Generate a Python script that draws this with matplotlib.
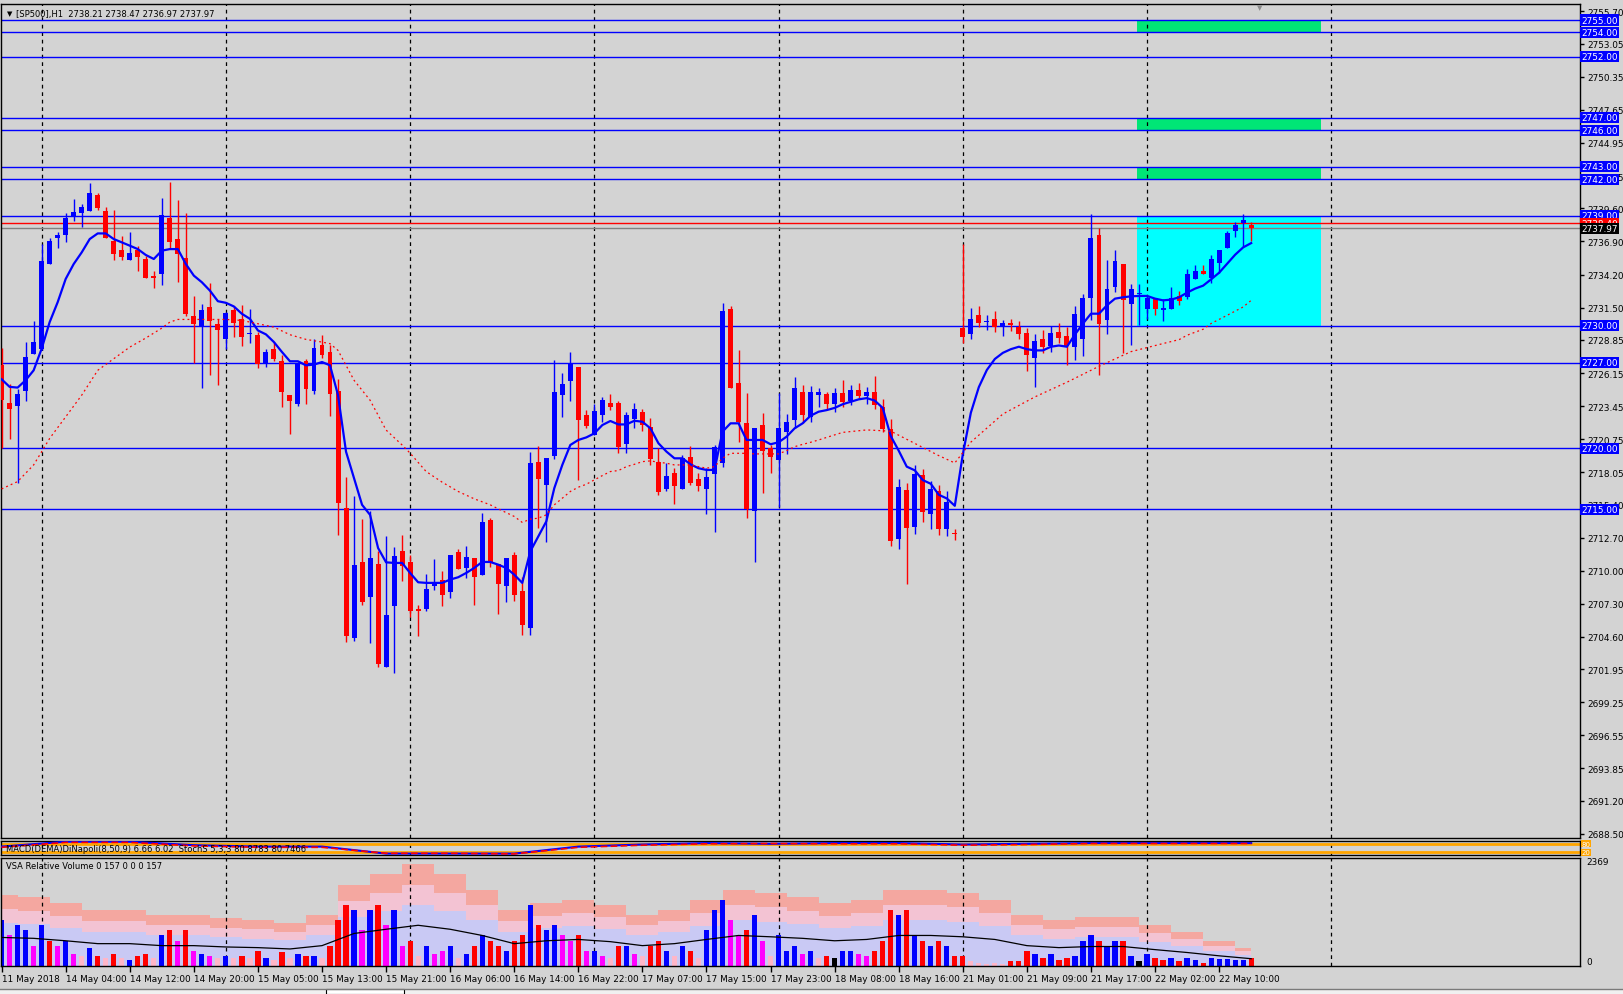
import numpy as np
import matplotlib.pyplot as plt
from matplotlib.patches import Rectangle
from matplotlib.transforms import blended_transform_factory

plt.rcParams['font.family'] = ['DejaVu Sans']

# hourly SP500 bars
opens = [2726.78, 2723.71, 2723.44, 2724.66, 2727.68, 2728.14, 2735.09, 2737.15, 2737.45, 2739.00,
         2739.27, 2739.41, 2740.68, 2739.43, 2736.94, 2736.20, 2735.42, 2736.20, 2735.47, 2734.06,
         2734.22, 2738.78, 2737.07, 2735.52, 2730.83, 2729.90, 2731.56, 2730.18, 2728.95, 2731.29,
         2730.58, 2729.31, 2729.28, 2726.86, 2728.14, 2727.13, 2724.37, 2723.60, 2727.13, 2724.66,
         2728.46, 2727.87, 2724.72, 2715.16, 2704.46, 2710.68, 2707.83, 2710.55, 2702.13, 2707.10,
         2711.63, 2710.71, 2706.83, 2706.90, 2708.78, 2709.21, 2708.23, 2711.52, 2710.22, 2711.03,
         2709.67, 2714.16, 2710.54, 2708.72, 2711.25, 2708.32, 2705.33, 2718.91, 2717.01, 2719.37,
         2724.35, 2725.49, 2726.65, 2722.72, 2721.09, 2722.72, 2723.67, 2723.67, 2720.37, 2722.36,
         2722.93, 2721.71, 2718.91, 2716.66, 2717.96, 2716.68, 2719.32, 2717.47, 2716.68, 2717.91,
         2718.83, 2731.41, 2725.30, 2722.04, 2714.84, 2721.90, 2720.05, 2719.05, 2721.30, 2722.31,
         2724.62, 2722.58, 2724.35, 2724.40, 2723.60, 2724.50, 2723.90, 2724.80, 2724.30, 2724.60,
         2723.40, 2721.60, 2712.60, 2716.60, 2713.60, 2717.80, 2714.60, 2716.50, 2713.40, 2713.10,
         2729.80, 2729.30, 2730.90, 2730.30, 2730.60, 2729.90, 2730.20, 2729.90, 2729.40, 2727.40,
         2728.90, 2728.40, 2729.50, 2729.20, 2728.30, 2728.96, 2732.31, 2737.45, 2730.46, 2733.18,
         2735.09, 2731.82, 2732.60, 2731.36, 2732.26, 2731.28, 2731.41, 2732.47, 2732.37, 2733.86,
         2734.51, 2733.94, 2735.17, 2736.39, 2737.73, 2738.43, 2738.21]
highs = [2728.22, 2725.29, 2724.88, 2728.68, 2730.39, 2736.69, 2737.15, 2737.64, 2739.19, 2740.41,
         2739.95, 2741.66, 2740.90, 2739.73, 2739.46, 2737.37, 2737.64, 2736.56, 2735.74, 2734.49,
         2740.49, 2741.80, 2740.30, 2739.27, 2732.48, 2731.80, 2733.49, 2730.58, 2731.13, 2731.61,
         2731.67, 2731.40, 2729.50, 2728.14, 2728.68, 2727.60, 2724.37, 2727.05, 2727.32, 2728.95,
         2729.22, 2728.41, 2725.70, 2717.69, 2716.14, 2714.21, 2714.84, 2711.58, 2712.80, 2711.90,
         2712.88, 2711.31, 2707.20, 2709.73, 2710.95, 2709.95, 2711.30, 2711.77, 2712.04, 2711.03,
         2714.75, 2714.29, 2710.54, 2711.03, 2711.49, 2709.46, 2719.73, 2720.22, 2719.18, 2727.25,
         2726.17, 2727.88, 2726.65, 2723.12, 2723.58, 2724.16, 2724.45, 2723.88, 2722.99, 2723.67,
         2723.20, 2722.44, 2720.05, 2718.78, 2718.42, 2719.46, 2720.22, 2717.96, 2718.37, 2720.27,
         2731.90, 2731.63, 2728.01, 2724.48, 2721.63, 2722.85, 2720.27, 2724.48, 2722.82, 2725.84,
         2725.16, 2725.11, 2724.89, 2724.62, 2724.90, 2725.60, 2725.20, 2725.30, 2725.00, 2725.90,
         2724.00, 2722.40, 2717.50, 2717.20, 2718.60, 2718.30, 2717.30, 2717.00, 2716.50, 2713.40,
         2736.70, 2731.50, 2731.60, 2730.90, 2731.20, 2730.50, 2730.60, 2730.40, 2729.80, 2729.30,
         2729.70, 2730.00, 2730.20, 2729.90, 2731.60, 2732.60, 2739.17, 2738.00, 2735.36, 2736.17,
         2735.09, 2733.45, 2733.45, 2732.50, 2732.26, 2732.23, 2733.21, 2732.88, 2734.68, 2735.00,
         2735.00, 2735.82, 2736.23, 2737.78, 2738.49, 2739.17, 2738.47]
lows = [2719.99, 2720.75, 2717.20, 2723.85, 2727.68, 2728.00, 2735.09, 2736.39, 2736.88, 2738.59,
        2738.10, 2739.41, 2739.49, 2737.15, 2735.42, 2735.42, 2735.42, 2734.46, 2733.89, 2733.13,
        2733.38, 2736.28, 2733.57, 2730.80, 2727.00, 2724.96, 2725.97, 2725.15, 2728.14, 2729.06,
        2728.36, 2728.57, 2726.59, 2726.62, 2727.11, 2723.36, 2721.16, 2723.47, 2723.66, 2724.42,
        2727.38, 2722.63, 2712.93, 2704.19, 2704.25, 2707.23, 2704.06, 2702.16, 2702.13, 2701.61,
        2709.13, 2706.23, 2704.65, 2706.68, 2708.45, 2707.15, 2707.77, 2710.16, 2709.40, 2707.23,
        2709.67, 2710.27, 2706.49, 2707.45, 2707.50, 2704.78, 2704.78, 2713.48, 2712.34, 2719.13,
        2722.52, 2723.86, 2717.42, 2721.63, 2721.09, 2722.17, 2723.12, 2719.59, 2719.59, 2721.63,
        2721.41, 2718.64, 2716.20, 2716.47, 2715.46, 2716.68, 2717.01, 2716.47, 2714.62, 2713.15,
        2718.50, 2724.94, 2720.49, 2714.29, 2710.71, 2716.33, 2717.96, 2715.24, 2719.54, 2721.68,
        2722.04, 2722.12, 2723.39, 2723.20, 2723.00, 2723.40, 2723.50, 2724.00, 2723.60, 2723.20,
        2721.30, 2712.00, 2711.80, 2708.90, 2713.00, 2714.00, 2713.40, 2712.90, 2712.80, 2712.50,
        2728.60, 2728.90, 2729.90, 2729.70, 2729.50, 2729.20, 2729.60, 2728.90, 2726.30, 2725.00,
        2727.80, 2727.90, 2728.60, 2726.80, 2727.20, 2727.55, 2730.50, 2726.00, 2729.37, 2732.77,
        2727.80, 2728.42, 2730.05, 2730.60, 2730.87, 2730.38, 2731.41, 2731.68, 2732.23, 2733.86,
        2734.22, 2733.51, 2734.30, 2736.39, 2737.26, 2736.45, 2736.97]
closes = [2723.93, 2723.20, 2724.47, 2727.46, 2728.68, 2735.28, 2736.94, 2737.42, 2738.81, 2739.35,
          2739.68, 2740.90, 2739.65, 2737.15, 2735.88, 2735.66, 2735.93, 2735.66, 2733.89, 2733.89,
          2739.03, 2736.83, 2735.85, 2730.99, 2730.15, 2731.29, 2730.37, 2729.63, 2731.07, 2730.28,
          2729.06, 2729.39, 2726.89, 2727.89, 2727.32, 2724.61, 2723.85, 2727.00, 2724.88, 2728.19,
          2727.60, 2724.42, 2715.49, 2704.63, 2710.44, 2707.45, 2711.03, 2702.35, 2706.36, 2711.17,
          2710.38, 2706.69, 2706.70, 2708.51, 2709.00, 2707.99, 2711.30, 2710.16, 2711.09, 2709.46,
          2713.97, 2710.62, 2708.94, 2711.03, 2707.99, 2705.52, 2718.78, 2717.47, 2719.18, 2724.62,
          2725.22, 2726.98, 2722.31, 2721.82, 2723.07, 2723.91, 2723.34, 2720.08, 2722.72, 2723.18,
          2721.90, 2719.13, 2716.41, 2717.74, 2716.93, 2719.24, 2717.15, 2716.93, 2717.69, 2720.13,
          2731.19, 2724.94, 2722.17, 2715.03, 2721.63, 2719.78, 2719.29, 2721.63, 2722.12, 2724.89,
          2722.72, 2724.62, 2724.62, 2723.58, 2724.50, 2723.80, 2724.80, 2724.30, 2724.60, 2723.50,
          2721.60, 2712.40, 2716.80, 2713.50, 2717.90, 2714.80, 2716.70, 2713.40, 2715.60, 2713.00,
          2729.10, 2730.60, 2730.20, 2730.40, 2729.90, 2730.20, 2730.10, 2729.30, 2727.60, 2728.80,
          2728.30, 2729.40, 2729.00, 2728.40, 2731.00, 2732.31, 2737.21, 2730.19, 2732.99, 2735.33,
          2732.09, 2732.99, 2732.64, 2732.31, 2731.41, 2731.47, 2732.31, 2732.04, 2734.24, 2734.51,
          2734.22, 2735.49, 2736.23, 2737.56, 2738.27, 2738.68, 2737.97]

# fast moving average (solid blue), one value per bar
ma_fast = [2725.64, 2725.02, 2724.96, 2725.56, 2726.37, 2728.14, 2730.31, 2731.94, 2733.84, 2735.06,
           2736.01, 2737.10, 2737.56, 2737.56, 2737.10, 2736.83, 2736.56, 2736.28, 2735.80, 2735.47,
           2736.15, 2736.28, 2736.28, 2735.06, 2734.11, 2733.57, 2732.89, 2732.02, 2731.89, 2731.59,
           2730.99, 2730.58, 2729.63, 2729.31, 2728.68, 2727.87, 2727.11, 2727.11, 2726.78, 2726.84,
           2727.05, 2726.78, 2724.34, 2719.72, 2717.55, 2715.38, 2714.56, 2711.85, 2710.68, 2710.63,
           2710.63, 2709.81, 2709.05, 2709.00, 2709.00, 2709.00, 2709.27, 2709.46, 2709.81, 2710.22,
           2710.71, 2710.71, 2710.49, 2710.22, 2709.67, 2709.00, 2711.57, 2712.80, 2714.02, 2716.74,
           2718.64, 2720.27, 2720.68, 2720.89, 2721.22, 2721.90, 2722.23, 2721.95, 2721.95, 2722.25,
           2722.17, 2721.63, 2720.41, 2719.73, 2719.18, 2719.18, 2718.69, 2718.37, 2718.23, 2718.23,
           2721.36, 2722.04, 2722.04, 2720.68, 2720.68, 2720.68, 2720.33, 2720.49, 2720.95, 2721.63,
           2722.04, 2722.66, 2722.99, 2723.12, 2723.30, 2723.60, 2723.80, 2724.00, 2724.10, 2723.90,
           2723.30, 2721.00, 2719.80, 2718.50, 2718.20, 2717.40, 2717.10, 2716.20, 2715.90, 2715.30,
           2719.50, 2722.90, 2725.00, 2726.40, 2727.30, 2727.80, 2728.10, 2728.30, 2728.10, 2728.00,
           2728.00, 2728.30, 2728.40, 2728.30, 2729.30, 2730.19, 2731.00, 2731.00, 2731.69, 2732.23,
           2732.34, 2732.42, 2732.45, 2732.45, 2732.23, 2732.09, 2732.15, 2732.34, 2732.72, 2733.05,
           2733.29, 2733.81, 2734.35, 2735.09, 2735.82, 2736.42, 2736.77]

# slow moving average (red dotted), read at these bars
ma_slow_bar = [0, 2, 4, 5, 6, 8, 10, 12, 14, 16, 18, 20, 21, 22, 24, 26, 28, 30, 32, 34, 36, 38, 40,
               41, 42, 43, 44, 46, 48, 50, 51, 52, 53, 55, 57, 59, 61, 62, 64, 65, 66, 67, 68, 69,
               70, 71, 72, 73, 74, 75, 76, 77, 78, 79, 80, 81, 82, 83, 84, 86, 87, 88, 89, 90, 91,
               93, 94, 97, 98, 99, 100, 101, 102, 103, 105, 108, 111, 114, 117, 119, 121, 125, 129,
               133, 137, 141, 143, 145, 147, 148, 150, 151, 153, 155, 156]
ma_slow_val = [2716.68, 2717.28, 2718.64, 2719.72, 2720.81, 2722.57, 2724.34, 2726.37, 2727.32,
               2728.27, 2729.01, 2729.82, 2730.31, 2730.53, 2730.53, 2730.53, 2730.53, 2730.45,
               2730.18, 2729.90, 2729.28, 2728.90, 2728.68, 2728.55, 2728.00, 2726.78, 2725.56,
               2723.93, 2721.49, 2720.27, 2719.60, 2718.85, 2718.10, 2717.23, 2716.47, 2715.87,
               2715.38, 2715.05, 2714.43, 2713.94, 2714.21, 2714.29, 2714.56, 2715.38, 2715.92,
               2716.47, 2716.82, 2717.06, 2717.42, 2717.77, 2718.10, 2718.18, 2718.50, 2718.69,
               2718.91, 2718.97, 2718.86, 2718.78, 2718.64, 2718.64, 2718.50, 2718.37, 2718.50,
               2719.18, 2719.59, 2719.59, 2719.54, 2719.54, 2719.81, 2720.13, 2720.32, 2720.49,
               2720.68, 2720.89, 2721.30, 2721.50, 2721.40, 2720.40, 2719.40, 2718.80, 2720.50,
               2722.80, 2724.20, 2725.40, 2726.70, 2727.90, 2728.23, 2728.56, 2728.88, 2729.24,
               2729.73, 2730.20, 2730.87, 2731.55, 2732.09]

# VSA relative volume panel
volume = [1035, 690, 920, 805, 460, 920, 575, 460, 575, 276,
          230, 414, 230, 184, 276, 184, 138, 230, 276, 184,
          690, 805, 575, 805, 345, 276, 230, 184, 230, 184,
          230, 184, 345, 184, 138, 322, 184, 276, 230, 230,
          184, 460, 1035, 1380, 1265, 805, 1265, 1380, 920, 1265,
          460, 575, 230, 460, 276, 345, 460, 184, 276, 460,
          690, 575, 460, 345, 575, 690, 1380, 920, 805, 920,
          690, 575, 690, 345, 345, 230, 184, 460, 460, 276,
          230, 460, 575, 345, 230, 460, 345, 184, 805, 1265,
          1495, 1035, 690, 805, 1150, 575, 230, 690, 345, 460,
          276, 345, 184, 230, 184, 345, 345, 276, 230, 345,
          575, 1265, 1150, 1265, 690, 575, 460, 575, 460, 230,
          230, 115, 69, 46, 69, 46, 115, 115, 345, 276,
          184, 276, 138, 184, 230, 575, 690, 575, 460, 575,
          575, 230, 115, 276, 184, 138, 184, 115, 184, 138,
          69, 184, 161, 161, 138, 138, 184]
vol_kind = ('bmbbmbrmbm' 'pbrprpbrrp' 'brmrmbmpbp' 'rprbprpbrb' 'prrrbmbrmb' 'mrpbmmbpbr'
            'brrbrrbrbb' 'mmrmbmprbm' 'prrbpbrpbb' 'bmmrbmpbbb' 'mbprkbbmmr' 'rrbrbrbrbr'
            'rppppprrrb' 'rbrrbbbrbb' 'rbkbrrbrbb' 'rbbbbbr')
band_bar = list(range(0, 157, 4))
band_high = [1610, 1564, 1426, 1265, 1265, 1150, 1150, 1081, 1035, 966, 1150, 1840, 2070, 2300,
             2070, 1725, 1265, 1426, 1495, 1380, 1150, 1265, 1495, 1725, 1656, 1564, 1426, 1495,
             1725, 1725, 1656, 1495, 1150, 1035, 1104, 1104, 920, 759, 575, 414]
band_mid = [1290, 1250, 1140, 1010, 1010, 920, 920, 865, 830, 775, 920, 1470, 1655, 1840, 1655,
            1380, 1010, 1140, 1195, 1105, 920, 1010, 1195, 1380, 1325, 1250, 1140, 1195, 1380,
            1380, 1325, 1195, 920, 830, 885, 885, 735, 605, 460, 330]
band_low = [965, 940, 855, 760, 760, 690, 690, 650, 620, 580, 690, 1105, 1240, 1380, 1240, 1035,
            760, 855, 895, 830, 690, 760, 895, 1035, 995, 940, 855, 895, 1035, 1035, 995, 895,
            690, 620, 660, 660, 550, 455, 345, 250]
vol_avg = [645, 625, 570, 505, 505, 460, 460, 430, 415, 385, 460, 735, 830, 920, 830, 690, 505,
           570, 600, 550, 460, 505, 600, 690, 660, 625, 570, 600, 690, 690, 660, 600, 460, 415,
           440, 440, 370, 305, 230, 165]

# oscillator strip (0..100 scale)
osc_bar = [0, 8, 16, 24, 32, 40, 48, 56, 64, 72, 80, 88, 96, 104, 112, 120, 128, 136, 144, 152, 156]
osc_main = [60, 95, 95, 70, 60, 60, 10, 10, 10, 60, 75, 85, 80, 85, 85, 75, 80, 85, 85, 85, 85]
osc_signal = [55, 90, 90, 65, 55, 55, 12, 12, 8, 55, 70, 80, 82, 80, 80, 70, 75, 82, 82, 82, 82]

levels = [2755, 2754, 2752, 2747, 2746, 2743, 2742, 2739, 2730, 2727, 2720, 2715]
green_zones = [(2754, 2755), (2746, 2747), (2742, 2743)]
cyan_zone = (2730, 2739)
zone_bars = (141.8, 164.7)
bid, ask = 2737.97, 2738.40

price_ticks = ['2755.70', '2753.05', '2750.35', '2747.65', '2744.95', '2742.25', '2739.60',
               '2736.90', '2734.20', '2731.50', '2728.85', '2726.15', '2723.45', '2720.75',
               '2718.05', '2715.40', '2712.70', '2710.00', '2707.30', '2704.60', '2701.95',
               '2699.25', '2696.55', '2693.85', '2691.20', '2688.50']
time_labels = ['11 May 2018', '14 May 04:00', '14 May 12:00', '14 May 20:00', '15 May 05:00',
               '15 May 13:00', '15 May 21:00', '16 May 06:00', '16 May 14:00', '16 May 22:00',
               '17 May 07:00', '17 May 15:00', '17 May 23:00', '18 May 08:00', '18 May 16:00',
               '21 May 01:00', '21 May 09:00', '21 May 17:00', '22 May 02:00', '22 May 10:00']
grid_bars = [5, 28, 51, 74, 97, 120, 143, 166]

W, H = 1624, 995
BG = '#D3D3D3'
BLUE, RED = '#0000FF', '#FF0000'
FS = 6.4
KIND_COL = {'b': BLUE, 'r': RED, 'm': '#FF00FF', 'p': '#FFB6C8', 'k': '#000000'}

fig = plt.figure(figsize=(W / 100, H / 100), dpi=100)
fig.patch.set_facecolor(BG)


def px_axes(x0, y0, x1, y1):
    a = fig.add_axes([x0 / W, 1 - y1 / H, (x1 - x0) / W, (y1 - y0) / H])
    a.set_facecolor(BG)
    for s in a.spines.values():
        s.set_color('black')
        s.set_linewidth(1)
    return a


XLIM = (-0.075, 197.05)
ax = px_axes(1, 5, 1580, 839)
sub = px_axes(1, 842, 1580, 856)
vol = px_axes(1, 859, 1580, 967)
for a in (ax, sub, vol):
    a.set_xlim(*XLIM)
    for g in grid_bars:
        a.axvline(g, color='black', lw=0.9, ls=(0, (3, 3)), zorder=1.5)

# ---- main price panel
ax.set_ylim(2688.15, 2756.31)
for lo, hi in green_zones:
    ax.add_patch(Rectangle((zone_bars[0], lo), zone_bars[1] - zone_bars[0], hi - lo,
                           facecolor='#00E676', edgecolor='none', zorder=0.5))
ax.add_patch(Rectangle((zone_bars[0], cyan_zone[0]), zone_bars[1] - zone_bars[0],
                       cyan_zone[1] - cyan_zone[0], facecolor='#00FFFF', edgecolor='none', zorder=0.5))
for lv in levels:
    ax.axhline(lv, color=BLUE, lw=1, zorder=2)
ax.axhline(ask, color=RED, lw=1, zorder=2)
ax.axhline(bid, color='#808080', lw=1, zorder=2)

o, h, l, c = (np.array(v) for v in (opens, highs, lows, closes))
x = np.arange(len(o))
col = np.where(c >= o, BLUE, RED)
ax.vlines(x, l, h, colors=col, lw=1, zorder=3)
ax.bar(x, np.maximum(np.abs(c - o), 0.09), bottom=np.minimum(o, c), width=0.62,
       color=col, lw=0, zorder=3)

ax.plot(np.arange(len(ma_fast)), ma_fast, color=BLUE, lw=1.6, zorder=4)
ax.plot(ma_slow_bar, ma_slow_val, color=RED, lw=0.9, ls=(0, (1.5, 2.5)), zorder=4)

ax.set_xticks([])
ax.yaxis.tick_right()
ax.set_yticks([float(t) for t in price_ticks])
ax.set_yticklabels(price_ticks)
ax.tick_params(axis='y', direction='out', length=3, width=1, pad=2, labelsize=FS, colors='black')

tr = blended_transform_factory(ax.transAxes, ax.transData)
box = dict(boxstyle='square,pad=0.12', ec='none')
for lv in levels:
    ax.text(1.0008, lv, f'{lv:.2f}', transform=tr, color='white', fontsize=FS, va='center',
            ha='left', clip_on=False, zorder=10, bbox=dict(box, fc=BLUE))
ax.text(1.0008, ask, f'{ask:.2f}', transform=tr, color='white', fontsize=FS, va='center',
        ha='left', clip_on=False, zorder=10, bbox=dict(box, fc=RED))
ax.text(1.0008, bid, f'{bid:.2f}', transform=tr, color='white', fontsize=FS, va='center',
        ha='left', clip_on=False, zorder=11, bbox=dict(box, fc='black'))

fig.text(7 / W, 1 - 14 / H, '\u25bc', fontsize=5, va='center', ha='left')
fig.text(16 / W, 1 - 14 / H, '[SP500],H1  2738.21 2738.47 2736.97 2737.97', fontsize=6.0,
         va='center', ha='left')
fig.text(1260 / W, 1 - 8 / H, '\u25bc', fontsize=5, color='#8C8C8C', va='center', ha='center')

# ---- oscillator strip
sub.set_ylim(0, 100)
sub.set_xticks([])
sub.set_yticks([])
for lv in (80, 20):
    sub.axhline(lv, color='#FFA500', lw=2, zorder=2)
sub.plot(osc_bar, osc_main, color=BLUE, lw=1.5, zorder=3)
sub.plot(osc_bar, osc_signal, color=RED, lw=1.2, ls=(0, (4, 2)), zorder=3)
sub.text(0.003, 0.45, 'MACD(DEMA)DiNapoli(8,50,9) 6.66 6.02  StochS 5,3,3 80.8783 80.7466',
         transform=sub.transAxes, fontsize=6.0, va='center', ha='left', zorder=5)
str_ = blended_transform_factory(sub.transAxes, sub.transData)
for lv in (80, 20):
    sub.text(1.001, lv, str(lv), transform=str_, color='white', fontsize=5, va='center',
             ha='left', clip_on=False, bbox=dict(boxstyle='square,pad=0.05', fc='#FFA500', ec='none'))

# ---- volume panel
vol.set_ylim(0, 2440)
vol.fill_between(band_bar, 0, band_high, step='mid', color='#F4A7A0', lw=0, zorder=0.6)
vol.fill_between(band_bar, 0, band_mid, step='mid', color='#F3C3D3', lw=0, zorder=0.7)
vol.fill_between(band_bar, 0, band_low, step='mid', color='#C9C9F4', lw=0, zorder=0.8)
vx = np.arange(len(volume))
vol.bar(vx, volume, width=0.65, color=[KIND_COL[k] for k in vol_kind], lw=0, zorder=2)
vol.plot(band_bar, vol_avg, color='black', lw=0.9, zorder=3)
vol.set_yticks([])
vtr = blended_transform_factory(vol.transAxes, vol.transData)
vol.text(1.004, 2369, '2369', transform=vtr, fontsize=FS, va='center', ha='left', clip_on=False)
vol.text(1.004, 100, '0', transform=vtr, fontsize=FS, va='center', ha='left', clip_on=False)
vol.text(0.003, 0.93, 'VSA Relative Volume 0 157 0 0 0 157', transform=vol.transAxes,
         fontsize=6.0, va='center', ha='left', zorder=5)
vol.set_xticks(np.arange(len(time_labels)) * 8)
vol.set_xticklabels(time_labels, ha='left')
vol.tick_params(axis='x', direction='out', length=4, width=1, pad=2, labelsize=FS, colors='black')

# tab strip at the bottom
fig.patches.append(Rectangle((0, 0), 1, 5 / H, transform=fig.transFigure, facecolor='#F0F0F0',
                             edgecolor='none'))
fig.lines.append(plt.Line2D([0, 1], [5 / H, 5 / H], transform=fig.transFigure, color='#7A7A7A', lw=1))
fig.patches.append(Rectangle((326 / W, 0), 78 / W, 5 / H, transform=fig.transFigure,
                             facecolor='white', edgecolor='black', lw=0.8))

fig.savefig('out.png', dpi=100, facecolor=fig.get_facecolor())
